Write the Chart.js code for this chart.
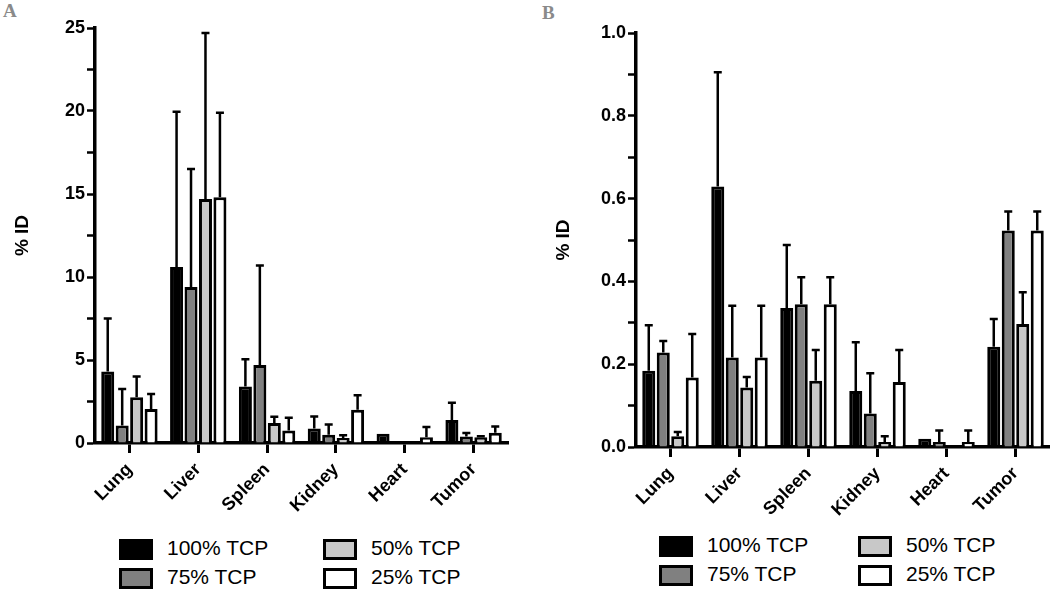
<!DOCTYPE html>
<html>
<head>
<meta charset="UTF-8">
<script src="https://cdn.jsdelivr.net/npm/chart.js"></script>
<style>
  body { margin: 0; background: #fff; width: 1050px; height: 594px; position: relative; overflow: hidden; font-family: "Liberation Sans", Arial, sans-serif; }
  .panel { position: absolute; }
  .tag { position: absolute; font-family: "Liberation Serif", "Times New Roman", serif; font-weight: bold; color: #8a8a8a; font-size: 19px; }
  .legend { position: absolute; }
  .item { position: absolute; height: 22px; }
  .box { position: absolute; left: 0; top: 0; width: 34px; height: 21px; box-sizing: border-box; border: 3px solid #000; }
  .lbl { position: absolute; top: -3px; font-size: 21px; color: #000; white-space: nowrap; }
</style>
</head>
<body>
<div class="tag" style="left:3px; top:0px;">A</div>
<div class="tag" style="left:542px; top:2px;">B</div>
<div class="panel" style="left:0; top:0; width:525px; height:530px;"><canvas id="chartA"></canvas></div>
<div class="panel" style="left:530px; top:0; width:520px; height:530px;"><canvas id="chartB"></canvas></div>
<div class="legend" id="legendA" style="left:119px; top:539px;"></div>
<div class="legend" id="legendB" style="left:659px; top:536px;"></div>

<script>
// organs on the x axis
const organs = ["Lung", "Liver", "Spleen", "Kidney", "Heart", "Tumor"];
const seriesNames = ["100% TCP", "75% TCP", "50% TCP", "25% TCP"];
const seriesColors = ["#000000", "#808080", "#c8c8c8", "#ffffff"];

// panel A, % ID (mean and upper error)
const a100 = [4.3, 10.6, 3.4, 0.88, 0.56, 1.38];
const a100sd = [3.2, 9.35, 1.65, 0.72, 0, 1.04];
const a75 = [1.05, 9.4, 4.7, 0.5, 0, 0.39];
const a75sd = [2.2, 7.1, 6.0, 0.62, 0, 0.21];
const a50 = [2.75, 14.7, 1.2, 0.3, 0, 0.35];
const a50sd = [1.25, 10.0, 0.38, 0.16, 0, 0.05];
const a25 = [2.05, 14.8, 0.75, 2.0, 0.35, 0.61];
const a25sd = [0.9, 5.1, 0.77, 0.88, 0.62, 0.39];

// panel B, % ID
const b100 = [0.184, 0.629, 0.336, 0.135, 0.02, 0.242];
const b100sd = [0.11, 0.276, 0.152, 0.118, 0, 0.067];
const b75 = [0.228, 0.216, 0.345, 0.081, 0.012, 0.523];
const b75sd = [0.028, 0.125, 0.065, 0.097, 0.028, 0.046];
const b50 = [0.026, 0.144, 0.16, 0.012, 0, 0.297];
const b50sd = [0.01, 0.025, 0.074, 0.014, 0, 0.077];
const b25 = [0.168, 0.216, 0.345, 0.157, 0.012, 0.523];
const b25sd = [0.105, 0.125, 0.065, 0.077, 0.028, 0.046];

const FONT = '"Liberation Sans", Arial, sans-serif';

const errorBars = {
    id: 'errorBars',
    afterDatasetsDraw(chart, args, opts) {
        const ctx = chart.ctx;
        const y = chart.scales.y;
        ctx.save();
        ctx.strokeStyle = '#000';
        ctx.lineWidth = 2.5;
        chart.data.datasets.forEach((ds, i) => {
            const meta = chart.getDatasetMeta(i);
            meta.data.forEach((bar, j) => {
                const sd = ds.sd[j];
                if (!sd) return;
                const top = y.getPixelForValue(ds.data[j]);
                const end = y.getPixelForValue(ds.data[j] + sd);
                ctx.beginPath();
                ctx.moveTo(bar.x, top);
                ctx.lineTo(bar.x, end);
                ctx.moveTo(bar.x - 4, end);
                ctx.lineTo(bar.x + 4, end);
                ctx.stroke();
            });
        });
        ctx.restore();
    }
};

function makeChart(id, series, sds, yMax, yStep, yLabel, box) {
    const datasets = series.map((d, i) => ({
        label: seriesNames[i],
        data: d,
        sd: sds[i],
        backgroundColor: seriesColors[i],
        borderColor: '#000',
        borderWidth: 3,
        categoryPercentage: 0.84,
        barPercentage: 0.9
    }));
    return new Chart(document.getElementById(id), {
        type: 'bar',
        data: { labels: organs, datasets: datasets },
        plugins: [errorBars],
        options: {
            responsive: true,
            maintainAspectRatio: false,
            animation: false,
            layout: { padding: { top: box.top, right: box.right, left: 0, bottom: 0 } },
            plugins: { legend: { display: false }, tooltip: { enabled: false } },
            scales: {
                x: {
                    z: 1,
                    grid: { display: true, drawOnChartArea: false, offset: false, tickLength: 10, tickWidth: 3, tickColor: '#000' },
                    border: { display: true, color: '#000', width: 3.5 },
                    ticks: { color: '#000', font: { family: FONT, size: 18, weight: 'bold' }, maxRotation: 45, minRotation: 45, padding: 6 },
                    afterFit: s => { s.height = box.xHeight; }
                },
                y: {
                    min: 0,
                    max: yMax,
                    grid: { display: true, drawOnChartArea: false, tickLength: 8, tickWidth: 2.5, tickColor: '#000' },
                    border: { display: true, color: '#000', width: 3.5 },
                    ticks: {
                        stepSize: yStep,
                        color: '#000',
                        padding: 2,
                        font: { family: FONT, size: 18, weight: 'bold' },
                        callback: yLabel
                    },
                    title: { display: true, text: '% ID', color: '#000', font: { family: FONT, size: 19, weight: 'bold' }, padding: { top: box.titlePad, bottom: 0 } },
                    afterFit: s => { s.width = box.yWidth; }
                }
            }
        }
    });
}

function buildLegend(id, colX, rowY) {
    const el = document.getElementById(id);
    // column-major: 100 / 75 on the left, 50 / 25 on the right
    seriesNames.forEach((name, i) => {
        const item = document.createElement('div');
        item.className = 'item';
        item.style.left = colX[Math.floor(i / 2)] + 'px';
        item.style.top = rowY[i % 2] + 'px';
        item.innerHTML = '<div class="box" style="background:' + seriesColors[i] + '"></div><span class="lbl" style="left:48px">' + name + '</span>';
        el.appendChild(item);
    });
}

makeChart('chartA', [a100, a75, a50, a25], [a100sd, a75sd, a50sd, a25sd], 25, 2.5,
    v => (Math.round(v * 10) % 50 === 0 ? String(v) : ''),
    { top: 28, right: 17, xHeight: 87, yWidth: 95, titlePad: 11 });
makeChart('chartB', [b100, b75, b50, b25], [b100sd, b75sd, b50sd, b25sd], 1.0, 0.1,
    v => (Math.round(v * 10) % 2 === 0 ? v.toFixed(1) : ''),
    { top: 33, right: 0, xHeight: 83, yWidth: 106, titlePad: 22 });

buildLegend('legendA', [0, 204], [0, 29]);
buildLegend('legendB', [0, 199], [0, 29]);
</script>
</body>
</html>
